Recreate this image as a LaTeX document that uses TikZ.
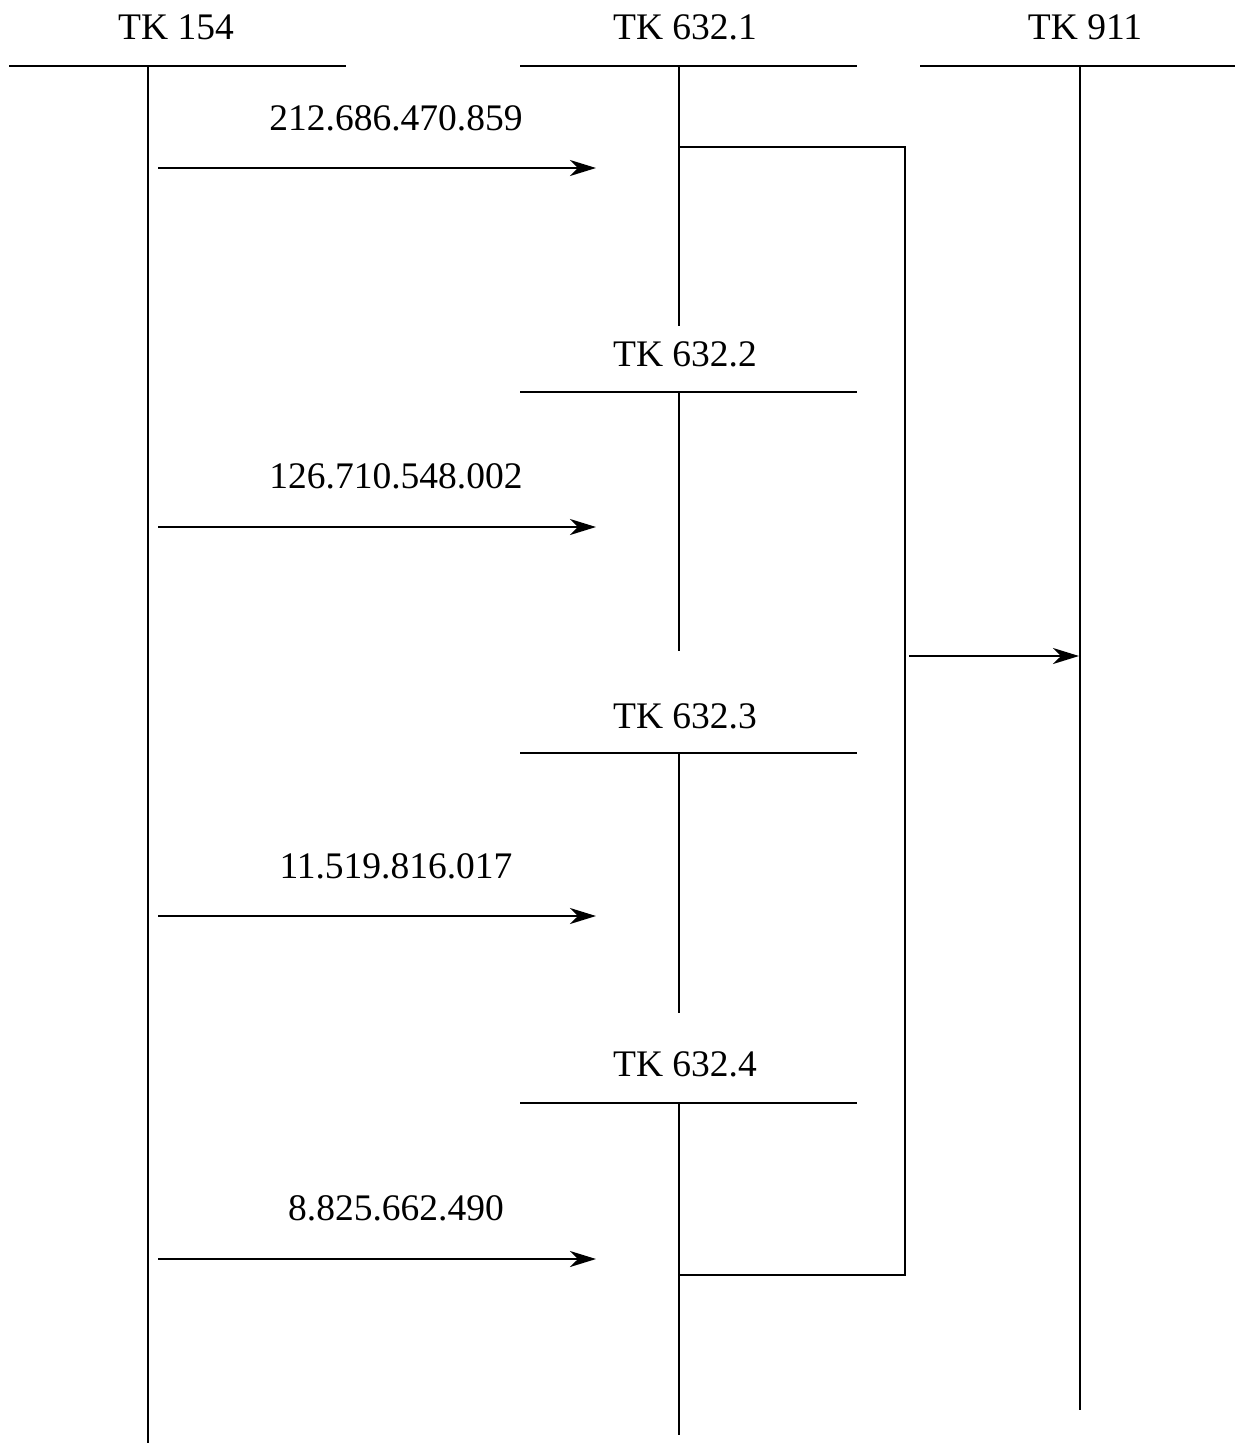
\documentclass[tikz,border=0pt]{standalone}
\usepackage{fontspec}
\setmainfont{Liberation Serif}
\usetikzlibrary{arrows.meta}
\begin{document}
\begin{tikzpicture}[x=1pt,y=-1pt,
  ln/.style={line width=2.2pt},
  arr/.style={line width=2.2pt,-{Stealth[length=26pt,width=16pt,inset=8pt]}},
  lbl/.style={inner sep=0pt,font=\fontsize{37.5}{40}\selectfont}]
\useasboundingbox (0,0) rectangle (1248,1444);
% headers
\node[lbl] (t154) at (176,27) {TK 154};
\node[lbl] (t6321) at (685,27) {TK 632.1};
\node[lbl] (t911) at (1085,27) {TK 911};
\node[lbl] (t6322) at (685,354) {TK 632.2};
\node[lbl] (t6323) at (685,716) {TK 632.3};
\node[lbl] (t6324) at (685,1064) {TK 632.4};
% header lines
\draw[ln] (9,66) -- (346,66);
\draw[ln] (520,66) -- (857,66);
\draw[ln] (920,66) -- (1235,66);
\draw[ln] (520,392) -- (857,392);
\draw[ln] (520,753) -- (857,753);
\draw[ln] (520,1103) -- (857,1103);
% lifelines
\coordinate (l154a) at (148,66); \coordinate (l154b) at (148,1443);
\draw[ln] (l154a) -- (l154b);
\coordinate (l1a) at (679,66); \coordinate (l1b) at (679,326);
\draw[ln] (l1a) -- (l1b);
\coordinate (l2a) at (679,392); \coordinate (l2b) at (679,651);
\draw[ln] (l2a) -- (l2b);
\coordinate (l3a) at (679,753); \coordinate (l3b) at (679,1013);
\draw[ln] (l3a) -- (l3b);
\coordinate (l4a) at (679,1103); \coordinate (l4b) at (679,1435);
\draw[ln] (l4a) -- (l4b);
\coordinate (l911a) at (1080,66); \coordinate (l911b) at (1080,1410);
\draw[ln] (l911a) -- (l911b);
% messages
\node[lbl] (m1) at (396,118) {212.686.470.859};
\coordinate (a1s) at (158,168); \coordinate (a1e) at (596,168);
\draw[arr] (a1s) -- (a1e);
\node[lbl] (m2) at (396,476) {126.710.548.002};
\coordinate (a2s) at (158,527); \coordinate (a2e) at (596,527);
\draw[arr] (a2s) -- (a2e);
\node[lbl] (m3) at (396,866) {11.519.816.017};
\coordinate (a3s) at (158,916); \coordinate (a3e) at (596,916);
\draw[arr] (a3s) -- (a3e);
\node[lbl] (m4) at (396,1208) {8.825.662.490};
\coordinate (a4s) at (158,1259); \coordinate (a4e) at (596,1259);
\draw[arr] (a4s) -- (a4e);
% bracket
\coordinate (b1) at (679,147); \coordinate (b2) at (905,147);
\coordinate (b3) at (905,1275); \coordinate (b4) at (679,1275);
\draw[ln] (b1) -- (b2) -- (b3) -- (b4);
\coordinate (c1) at (909,656); \coordinate (c2) at (1079,656);
\draw[arr] (c1) -- (c2);
\end{tikzpicture}
\end{document}
